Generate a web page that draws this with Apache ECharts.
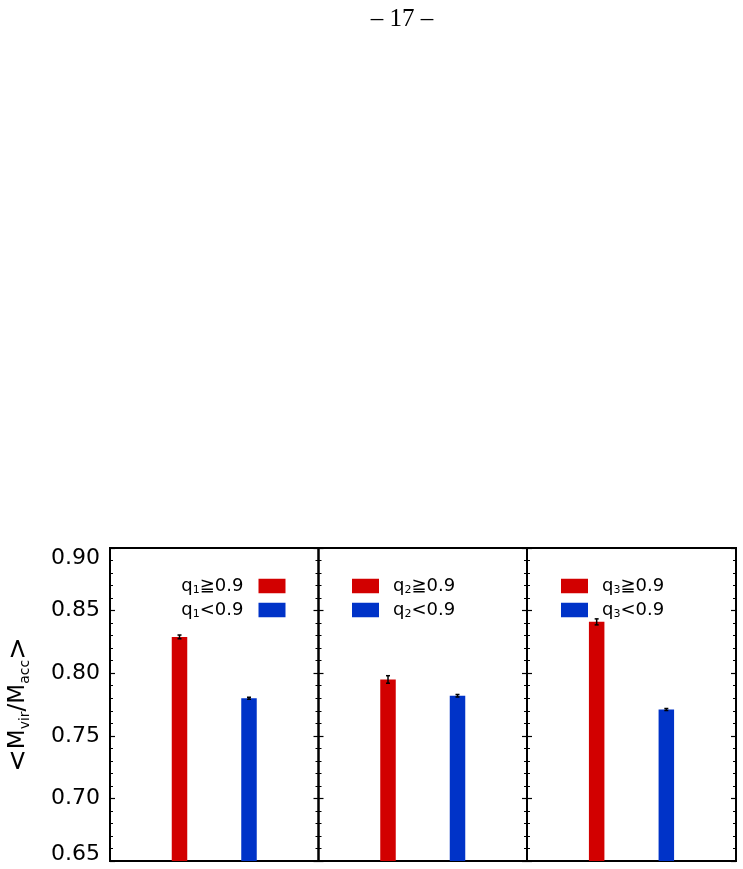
<!DOCTYPE html>
<html>
<head>
<meta charset="utf-8">
<script src="https://cdn.jsdelivr.net/npm/echarts@6/dist/echarts.min.js"></script>
<style>
  html, body { margin: 0; padding: 0; background: #fff; }
  #chart { width: 743px; height: 869px; }
</style>
</head>
<body>
<div id="chart"></div>
<script>
// one panel per q index, bars at x = 1 (q >= 0.9) and x = 2 (q < 0.9)
const panelIndex = ['1', '2', '3'];
const barX = [1, 2];
const highValues = [0.829, 0.795, 0.841];
const highErrors = [0.0015, 0.003, 0.0024];
const lowValues = [0.780, 0.782, 0.771];
const lowErrors = [0.0008, 0.001, 0.0008];
const yMin = 0.65;
const yMax = 0.90;
const yStep = 0.05;

const RED = '#d20000';
const BLUE = '#0033c8';

const gridLefts = [110, 318.5, 527];
const gridWidths = [208.5, 208.5, 209];
const legendPos = [
    { right: 743 - 285.5, align: 'right' },
    { left: 352, align: 'left' },
    { left: 561, align: 'left' }
];

function labelFormatter(v) {
    let s = v.toFixed(2);
    if (Math.abs(v - yMax) < 1e-6) return '{top|' + s + '}';
    if (Math.abs(v - yMin) < 1e-6) return '{bot|' + s + '}';
    return s;
}

function errorRender(params, api) {
    let x = api.value(0);
    let lo = api.coord([x, api.value(1)]);
    let hi = api.coord([x, api.value(2)]);
    let style = { stroke: '#000', lineWidth: 1.5 };
    return {
        type: 'group',
        children: [
            { type: 'line', shape: { x1: lo[0], y1: lo[1], x2: hi[0], y2: hi[1] }, style },
            { type: 'line', shape: { x1: hi[0] - 2, y1: hi[1], x2: hi[0] + 2, y2: hi[1] }, style },
            { type: 'line', shape: { x1: lo[0] - 2, y1: lo[1], x2: lo[0] + 2, y2: lo[1] }, style }
        ]
    };
}

let grids = [], xAxes = [], yAxes = [], series = [], legends = [];

for (let i = 0; i < panelIndex.length; i++) {
    let q = panelIndex[i];
    let highName = 'q' + q + '≧0.9';
    let lowName = 'q' + q + '<0.9';

    grids.push({
        left: gridLefts[i], width: gridWidths[i], top: 548, height: 313,
        show: true, borderColor: '#000', borderWidth: 2, backgroundColor: 'transparent'
    });

    xAxes.push({ gridIndex: i, type: 'value', min: 0, max: 3, show: false });

    let yBase = {
        gridIndex: i,
        type: 'value',
        min: yMin,
        max: yMax,
        interval: yStep,
        axisLine: { show: false },
        splitLine: { show: false },
        axisTick: { show: true, inside: true, length: 5, lineStyle: { color: '#000', width: 1.2 } },
        minorTick: { show: true, splitNumber: 5, length: 3, lineStyle: { color: '#000', width: 1 } }
    };

    yAxes.push({
        ...yBase,
        position: 'left',
        name: i === 0 ? '{b|<}M{s|vir}/M{s|acc}{b|>}' : '',
        nameLocation: 'middle',
        nameGap: 78,
        nameTextStyle: {
            fontFamily: 'DejaVu Sans', fontSize: 23, color: '#000',
            rich: {
                s: { fontFamily: 'DejaVu Sans', fontSize: 14, color: '#000', verticalAlign: 'bottom', padding: [12, 0, 0, 0] },
                b: { fontFamily: 'DejaVu Sans', fontSize: 27, color: '#000' }
            }
        },
        axisLabel: {
            show: i === 0,
            margin: 10,
            color: '#000',
            fontFamily: 'DejaVu Sans',
            fontSize: 22,
            formatter: labelFormatter,
            rich: {
                top: { fontFamily: 'DejaVu Sans', fontSize: 22, color: '#000', padding: [20, 0, 0, 0] },
                bot: { fontFamily: 'DejaVu Sans', fontSize: 22, color: '#000', padding: [0, 0, 14, 0] }
            }
        }
    });
    yAxes.push({ ...yBase, position: 'right', axisLabel: { show: false } });

    series.push({
        name: highName, type: 'bar', xAxisIndex: i, yAxisIndex: 2 * i,
        barWidth: 15.5, barGap: '-100%', itemStyle: { color: RED },
        data: [[barX[0], highValues[i]]]
    });
    series.push({
        name: lowName, type: 'bar', xAxisIndex: i, yAxisIndex: 2 * i,
        barWidth: 15.5, barGap: '-100%', itemStyle: { color: BLUE },
        data: [[barX[1], lowValues[i]]]
    });
    series.push({
        type: 'custom', xAxisIndex: i, yAxisIndex: 2 * i, z: 5,
        renderItem: errorRender,
        encode: { x: 0, y: [1, 2] },
        data: [
            [barX[0], highValues[i] - highErrors[i], highValues[i] + highErrors[i]],
            [barX[1], lowValues[i] - lowErrors[i], lowValues[i] + lowErrors[i]]
        ]
    });

    let pad = legendPos[i].align === 'right' ? [0, 10, 0, 0] : [0, 0, 0, 9];
    legends.push({
        ...legendPos[i],
        top: 577,
        orient: 'vertical',
        padding: 0,
        itemGap: 5,
        itemWidth: 27,
        itemHeight: 14.5,
        icon: 'rect',
        selectedMode: false,
        data: [highName, lowName],
        formatter: name => name.replace(/^q(\d)/, 'q{s|$1}'),
        textStyle: {
            fontFamily: 'DejaVu Sans', fontSize: 18, color: '#000', padding: pad,
            rich: {
                s: { fontFamily: 'DejaVu Sans', fontSize: 11, color: '#000', verticalAlign: 'bottom', padding: [9, 0, 0, 0] }
            }
        }
    });
}

let chart = echarts.init(document.getElementById('chart'));
let option = {
    animation: false,
    backgroundColor: '#fff',
    title: {
        text: '– 17 –',
        left: 397,
        top: 2,
        textAlign: 'center',
        textStyle: { fontFamily: 'Liberation Serif', fontSize: 25, fontWeight: 'normal', color: '#000' }
    },
    grid: grids,
    xAxis: xAxes,
    yAxis: yAxes,
    legend: legends,
    series
};
option && chart.setOption(option);
</script>
</body>
</html>
